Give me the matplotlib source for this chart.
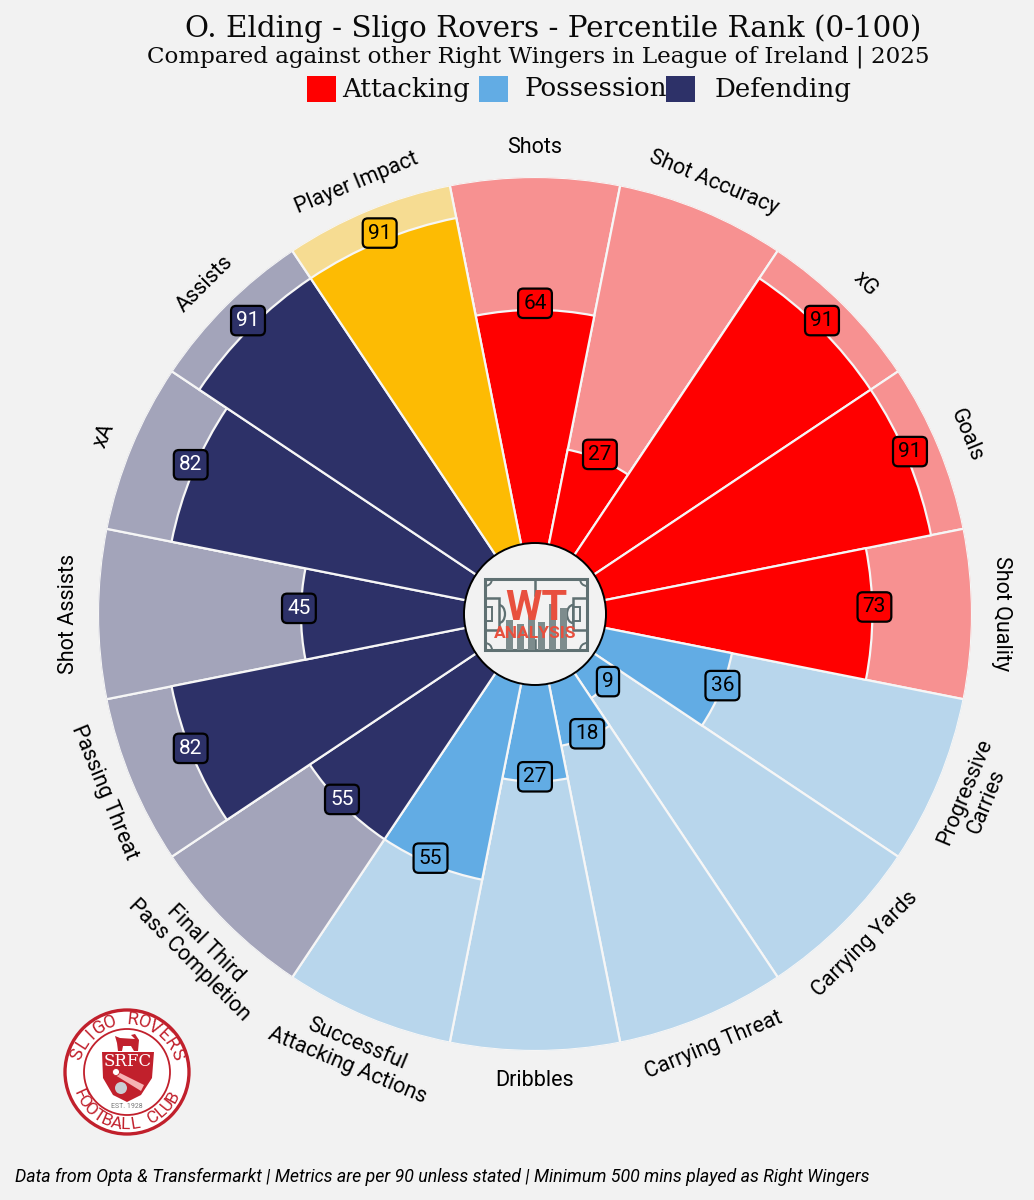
import numpy as np
import matplotlib
matplotlib.use("Agg")
import matplotlib.pyplot as plt
import matplotlib.patches as patches
from matplotlib.colors import to_rgba

BG = "#f2f2f2"
ATTACK = "#ff0000"
POSS = "#62ace4"
DEFEND = "#2d3168"
IMPACT = "#fdbb03"

metrics = [
    "Shots", "Shot Accuracy", "xG", "Goals", "Shot Quality",
    "Progressive\nCarries", "Carrying Yards", "Carrying Threat", "Dribbles",
    "Successful\nAttacking Actions", "Final Third\nPass Completion",
    "Passing Threat", "Shot Assists", "xA", "Assists", "Player Impact",
]
values = [64, 27, 91, 91, 73, 36, 9, 18, 27, 55, 55, 82, 45, 82, 91, 91]
groups = ["a"] * 5 + ["p"] * 5 + ["d"] * 5 + ["i"]
group_colors = {"a": ATTACK, "p": POSS, "d": DEFEND, "i": IMPACT}
legend_names = ["Attacking", "Possession", "Defending"]
legend_colors = [ATTACK, POSS, DEFEND]

plt.rcParams["font.family"] = ["Roboto", "DejaVu Sans"]
W, H = 1034, 1200
fig = plt.figure(figsize=(W / 100, H / 100), dpi=100, facecolor=BG)

# pizza
cx, cy, R = 535, 614, 437
ax = fig.add_axes([(cx - R) / W, (H - cy - R) / H, 2 * R / W, 2 * R / H], projection="polar")
ax.set_facecolor("none")
ax.set_theta_zero_location("N")
ax.set_theta_direction(-1)
ax.set_ylim(0, 100)
ax.set_rorigin(-18.4)
ax.axis("off")

width = 2 * np.pi / len(metrics)
angles = np.arange(len(metrics)) * width
colors = [group_colors[g] for g in groups]

ax.bar(angles, [100] * len(metrics), width=width, color=[to_rgba(c, 0.4) for c in colors],
       edgecolor="#f6f6f6", linewidth=1.6, zorder=1)
ax.bar(angles, values, width=width, color=colors, edgecolor="#f6f6f6", linewidth=1.6, zorder=2)

for ang, name, val, c in zip(angles, metrics, values, colors):
    deg = np.degrees(ang)
    rot = -deg if deg <= 90 or deg >= 270 else 180 - deg
    r_label = 111 if "\n" in name else 108
    ax.text(ang, r_label, name, rotation=rot, rotation_mode="anchor", ha="center", va="center",
            fontsize=15.5, color="black", linespacing=1.15, zorder=5)
    # value boxes sit a little above the arc, more so further out
    ax.annotate(str(val), xy=(ang, val), xytext=(1.5 * np.sin(ang), 2.5 + val * 0.035),
                textcoords="offset points", annotation_clip=False,
                ha="center", va="center", fontsize=15,
                color="white" if c == DEFEND else "black", zorder=6,
                bbox=dict(boxstyle="round,pad=0.25", facecolor=c, edgecolor="black", linewidth=1.6))

# overlay in pixel coordinates
ov = fig.add_axes([0, 0, 1, 1])
ov.set_xlim(0, W)
ov.set_ylim(H, 0)
ov.axis("off")
ov.set_facecolor("none")

serif = ["DejaVu Serif"]
ov.text(553, 29, "O. Elding - Sligo Rovers - Percentile Rank (0-100)", ha="center", va="center",
        fontsize=21.2, family=serif, color="#0a0a0a")
ov.text(538.5, 57, "Compared against other Right Wingers in League of Ireland | 2025", ha="center",
        va="center", fontsize=16.6, family=serif, color="#0a0a0a")
for x0, tx, name, c in zip([307, 479, 666], [342, 525, 715], legend_names, legend_colors):
    ov.add_patch(patches.Rectangle((x0, 76), 29, 26, facecolor=c, edgecolor="none"))
    ov.text(tx, 89, name, ha="left", va="center", fontsize=18.8, family=serif, color="#0a0a0a")

ov.text(15, 1177, "Data from Opta & Transfermarkt | Metrics are per 90 unless stated | Minimum 500 mins played as Right Wingers",
        ha="left", va="center", fontsize=12.8, style="italic", color="black")

# centre circle + WT logo
ov.add_patch(patches.Circle((cx, cy), 71, facecolor=BG, edgecolor="black", linewidth=1.4, zorder=3))
GREY = "#5f7072"
LOGO_RED = "#e8503e"
ov.add_patch(patches.Rectangle((485, 579), 102, 71, fill=False, edgecolor=GREY, linewidth=2.2, zorder=4))
ov.plot([535, 535], [579, 595], color=GREY, lw=1.8, zorder=4)
ov.plot([535, 535], [640, 650], color=GREY, lw=1.8, zorder=4)
for rx, rw in [(485, 14), (573, 14)]:
    ov.add_patch(patches.Rectangle((rx, 598), rw, 32, fill=False, edgecolor=GREY, linewidth=1.8, zorder=4))
    ov.add_patch(patches.Rectangle((rx, 607), rw / 2, 14, fill=False, edgecolor=GREY, linewidth=1.4, zorder=4))
ov.add_patch(patches.Arc((499, 614), 12, 18, theta1=-90, theta2=90, edgecolor=GREY, linewidth=1.6, zorder=4))
ov.add_patch(patches.Arc((573, 614), 12, 18, theta1=90, theta2=270, edgecolor=GREY, linewidth=1.6, zorder=4))
for ccx, ccy, t1 in [(485, 579, 0), (587, 579, 90), (485, 650, 270), (587, 650, 180)]:
    ov.add_patch(patches.Arc((ccx, ccy), 14, 14, theta1=t1, theta2=t1 + 90, edgecolor=GREY, linewidth=1.4, zorder=4))
bar_tops = [620, 624, 612, 622, 604, 608]
for i, top in enumerate(bar_tops):
    ov.add_patch(patches.Rectangle((506 + i * 10.8, top), 7, 650 - top, facecolor="#7d8c8d", edgecolor="none", zorder=4))
ov.text(536, 608, "WT", ha="center", va="center", fontsize=30, fontweight="bold", color=LOGO_RED, zorder=5)
ov.text(535, 634, "ANALYSIS", ha="center", va="center", fontsize=12.5, fontweight="bold", color=LOGO_RED, zorder=5)

# club badge
sx, sy = 127, 1072
CREST = "#c1202c"
ov.add_patch(patches.Circle((sx, sy), 62, facecolor="white", edgecolor=CREST, linewidth=2.4))
ov.add_patch(patches.Circle((sx, sy), 43, facecolor="white", edgecolor=CREST, linewidth=1.3))


def arc_text(label, radius, start, end, size):
    for ch, a in zip(label, np.linspace(start, end, len(label))):
        t = np.radians(a)
        x = sx + radius * np.sin(t)
        y = sy - radius * np.cos(t)
        rot = -a if abs(a) < 90 else 180 - a
        ov.text(x, y, ch, rotation=rot, ha="center", va="center", fontsize=size, color=CREST,
                rotation_mode="anchor")


arc_text("SLIGO ROVERS", 52.5, -70, 70, 13)
arc_text("FOOTBALL CLUB", 52.5, 245, 118, 12.5)
shield = [(102, 1052), (154, 1052), (152, 1078), (141, 1095), (127, 1102), (113, 1095), (103, 1078)]
ov.add_patch(patches.Polygon(shield, closed=True, facecolor=CREST, edgecolor="none"))
ov.add_patch(patches.Polygon([(116, 1071), (144, 1085), (141, 1091), (115, 1075)], closed=True,
                             facecolor="#f6b3b3", edgecolor="none"))
ov.add_patch(patches.Circle((121, 1088), 6, facecolor="#c9ced3", edgecolor="none"))
ov.add_patch(patches.Circle((116, 1072), 3.5, facecolor="white", edgecolor=CREST, linewidth=0.6))
bull = [(115, 1036), (120, 1038), (135, 1039), (131, 1035), (135, 1034), (139, 1040), (138, 1051),
        (134, 1051), (131, 1046), (123, 1046), (122, 1051), (118, 1051), (117, 1043)]
ov.add_patch(patches.Polygon(bull, closed=True, facecolor=CREST, edgecolor="none"))
ov.text(128, 1062, "SRFC", ha="center", va="center", fontsize=12, family=["DejaVu Serif"], color="white")
ov.text(127, 1106, "EST. 1928", ha="center", va="center", fontsize=5, color="#777777")

fig.savefig("out.png", dpi=100, facecolor=BG)
